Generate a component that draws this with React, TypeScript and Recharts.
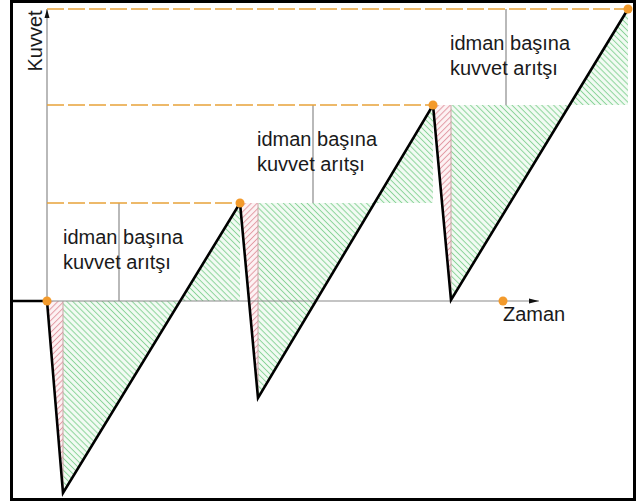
import React from 'react';
import { ComposedChart, Line, Area, Scatter, XAxis, YAxis, ReferenceLine } from 'recharts';

// force (Kuvvet) over time (Zaman): after each session force drops, then rebounds above the old level
const peakTime = [0, 193, 386, 581];
const peakForce = [0, 98, 196, 292];
const dipTime = [16, 211, 404];
const dipForce = [-192, -97, 1];
const labelTime = [72, 266, 459];
const restTime = -36;
const timeMark = 456;
const timeAxisEnd = 492;
const forceAxisEnd = 292;
const labelLines = ['idman başına', 'kuvvet arıtşı'];

const FONT = '"Liberation Sans", Arial, sans-serif';

const curve = [{ t: restTime, f: 0 }];
peakTime.forEach((t, i) => {
  curve.push({ t, f: peakForce[i] });
  if (i < dipTime.length) curve.push({ t: dipTime[i], f: dipForce[i] });
});

const cycles = dipTime.map((t, i) => ({
  base: peakForce[i],
  loss: [
    { t: peakTime[i], f: peakForce[i] },
    { t, f: dipForce[i] },
  ],
  gain: [
    { t, f: dipForce[i] },
    { t: peakTime[i + 1], f: peakForce[i + 1] },
  ],
}));

const dots = [...peakTime.map((t, i) => ({ t, f: peakForce[i] })), { t: timeMark, f: 0 }];

const GainLabel = (props: any) => {
  const vb = props.viewBox || {};
  const x = vb.x - 56;
  const top = Math.min(vb.y, vb.y + (vb.height || 0));
  return (
    <text x={x} y={top + 41} fontFamily={FONT} fontSize={20} fill="#1a1a1a">
      <tspan x={x} dy={0}>{labelLines[0]}</tspan>
      <tspan x={x} dy={25}>{labelLines[1]}</tspan>
    </text>
  );
};

const TimeAxisHead = (props: any) => {
  const { x, y, width } = props.viewBox || {};
  const tip = x + width;
  return (
    <g>
      <polygon points={`${tip},${y} ${tip - 10},${y - 2.5} ${tip - 10},${y + 2.5}`} fill="#111" />
      <text x={tip - 36} y={y + 20} fontFamily={FONT} fontSize={20} fill="#1a1a1a">Zaman</text>
    </g>
  );
};

const ForceAxisHead = (props: any) => {
  const { x, y } = props.viewBox || {};
  const cx = x - 12;
  const cy = y + 32;
  return (
    <g>
      <polygon points={`${x},${y} ${x - 2.5},${y + 9} ${x + 2.5},${y + 9}`} fill="#111" />
      <text
        x={cx}
        y={cy}
        transform={`rotate(-90, ${cx}, ${cy})`}
        textAnchor="middle"
        dominantBaseline="central"
        fontFamily={FONT}
        fontSize={20}
        fill="#1a1a1a"
      >
        Kuvvet
      </text>
    </g>
  );
};

const Dot = (props: any) => <circle cx={props.cx} cy={props.cy} r={4.5} fill="#f39a2b" />;

export default function App() {
  return (
    <div style={{ position: 'absolute', left: 0, top: 0, width: 636, height: 501, background: '#fff' }}>
      <ComposedChart width={636} height={501} margin={{ top: 0, right: 0, bottom: 0, left: 0 }}>
        <defs>
          <pattern id="hatchGreen" width="4.2" height="4.2" patternUnits="userSpaceOnUse" patternTransform="rotate(-45)">
            <rect width="4.2" height="4.2" fill="#f3fbf4" />
            <line x1="2.1" y1="0" x2="2.1" y2="4.2" stroke="#8ad499" strokeWidth="1" />
          </pattern>
          <pattern id="hatchRed" width="4.2" height="4.2" patternUnits="userSpaceOnUse" patternTransform="rotate(45)">
            <rect width="4.2" height="4.2" fill="#fdf3f4" />
            <line x1="2.1" y1="0" x2="2.1" y2="4.2" stroke="#e29aa4" strokeWidth="1" />
          </pattern>
        </defs>
        <XAxis type="number" dataKey="t" domain={[-47, 589]} allowDataOverflow hide />
        <YAxis type="number" dataKey="f" domain={[-200, 301]} allowDataOverflow hide />

        {cycles.map((c, i) => (
          <Area
            key={`loss${i}`}
            data={c.loss}
            dataKey="f"
            type="linear"
            baseValue={c.base}
            fill="url(#hatchRed)"
            fillOpacity={1}
            stroke="none"
            isAnimationActive={false}
          />
        ))}
        {cycles.map((c, i) => (
          <Area
            key={`gain${i}`}
            data={c.gain}
            dataKey="f"
            type="linear"
            baseValue={c.base}
            fill="url(#hatchGreen)"
            fillOpacity={1}
            stroke="none"
            isAnimationActive={false}
          />
        ))}

        {cycles.map((c, i) => (
          <ReferenceLine
            key={`edge${i}`}
            segment={[
              { x: dipTime[i], y: c.base },
              { x: dipTime[i], y: dipForce[i] },
            ]}
            stroke="#c9a3a6"
            strokeWidth={1}
          />
        ))}

        <ReferenceLine
          segment={[
            { x: 0, y: 0 },
            { x: timeAxisEnd, y: 0 },
          ]}
          stroke="#8a8a8a"
          strokeWidth={1.2}
          label={<TimeAxisHead />}
        />
        <ReferenceLine
          segment={[
            { x: 0, y: 0 },
            { x: 0, y: forceAxisEnd },
          ]}
          stroke="#8a8a8a"
          strokeWidth={1.2}
          label={<ForceAxisHead />}
        />

        {labelTime.map((t, i) => (
          <ReferenceLine
            key={`mark${i}`}
            segment={[
              { x: t, y: peakForce[i] },
              { x: t, y: peakForce[i + 1] },
            ]}
            stroke="#8a8a8a"
            strokeWidth={1.2}
            label={<GainLabel />}
          />
        ))}

        {peakTime.slice(1).map((t, i) => (
          <ReferenceLine
            key={`level${i}`}
            segment={[
              { x: 0, y: peakForce[i + 1] },
              { x: t, y: peakForce[i + 1] },
            ]}
            stroke="#e8a33a"
            strokeWidth={1.3}
            strokeDasharray="17 4"
          />
        ))}

        <Line
          data={curve}
          dataKey="f"
          type="linear"
          stroke="#000"
          strokeWidth={2.6}
          dot={false}
          activeDot={false}
          isAnimationActive={false}
        />
        <Scatter data={dots} dataKey="f" shape={<Dot />} isAnimationActive={false} />
      </ComposedChart>
      <div
        style={{
          position: 'absolute',
          left: 10,
          top: 0,
          width: 626,
          height: 501,
          border: '3px solid #000',
          boxSizing: 'border-box',
          pointerEvents: 'none',
        }}
      />
    </div>
  );
}
